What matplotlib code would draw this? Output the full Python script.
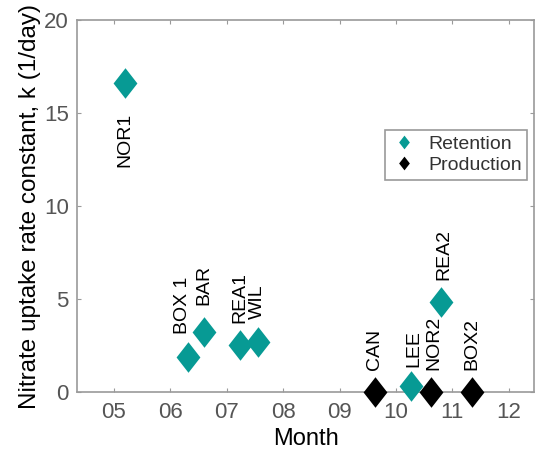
import numpy as np
from matplotlib import pyplot as plt
from matplotlib.path import Path

# sites, month of sampling (decimal month) and uptake rate constant k (1/day)
sites = ['NOR1', 'BOX 1', 'BAR', 'REA1', 'WIL', 'CAN', 'LEE', 'NOR2', 'REA2', 'BOX2']
month = [5.19, 6.32, 6.60, 7.23, 7.55, 9.62, 10.27, 10.62, 10.80, 11.35]
k_val = [16.6, 1.9, 3.2, 2.5, 2.7, 0.0, 0.3, 0.0, 4.84, 0.0]
group = ['Retention', 'Retention', 'Retention', 'Retention', 'Retention',
         'Production', 'Retention', 'Production', 'Retention', 'Production']
month_ticks = [5, 6, 7, 8, 9, 10, 11, 12]
month_labels = ['05', '06', '07', '08', '09', '10', '11', '12']

# label offsets in points (dx, dy) relative to the marker
label_off = [(0, -21), (-4, 16), (0, 19.5), (0, 16), (0, 16.5),
             (0, 16), (2, 14), (2, 16), (2, 16), (0, 16)]

colors = {'Retention': '#079a94', 'Production': 'black'}

plt.rcParams['font.family'] = ['Liberation Sans', 'DejaVu Sans']

diamond = Path([(0, 1), (0.78, 0), (0, -1), (-0.78, 0), (0, 1)],
               [Path.MOVETO, Path.LINETO, Path.LINETO, Path.LINETO, Path.CLOSEPOLY])

fig = plt.figure(figsize=(5.36, 4.55), dpi=100)
ax = fig.add_axes([0.1437, 0.1385, 0.853, 0.8175])

m = np.array(month)
kk = np.array(k_val)
g = np.array(group)
for name in ['Retention', 'Production']:
    sel = g == name
    ax.plot(m[sel], kk[sel], linestyle='none', marker=diamond, markersize=22,
            markeredgewidth=0, color=colors[name], label=name, zorder=3,
            clip_on=False)

for i, s in enumerate(sites):
    dx, dy = label_off[i]
    ax.annotate(s, (month[i], k_val[i]), xytext=(dx, dy), textcoords='offset points',
                rotation=90, ha='center', va='top' if dy < 0 else 'bottom',
                fontsize=14, color='black')

ax.set_xlim(4.346, 12.45)
ax.set_ylim(0, 20)
ax.set_xticks(month_ticks)
ax.set_xticklabels(month_labels)
ax.set_yticks([0, 5, 10, 15, 20])

for sp in ax.spines.values():
    sp.set_color('#9a9a9a')
    sp.set_linewidth(1.2)
ax.tick_params(direction='in', length=3, width=0.8, color='#9a9a9a',
               top=True, right=True, labelcolor='#555555', labelsize=16)
ax.tick_params(axis='x', pad=7)
ax.tick_params(axis='y', pad=6)

ax.set_xlabel('Month', fontsize=17, labelpad=4)
ax.set_ylabel('Nitrate uptake rate constant, k (1/day)', fontsize=17.5, labelpad=2)

leg = ax.legend(loc='upper right', bbox_to_anchor=(0.985, 0.705), borderaxespad=0,
                fontsize=14, markerscale=0.45, handlelength=1.3, handletextpad=0.6,
                borderpad=0.3, labelspacing=0.15, fancybox=False, framealpha=1)
leg.get_frame().set_edgecolor('#9a9a9a')
leg.get_frame().set_linewidth(1.2)
for t in leg.get_texts():
    t.set_color('#333333')

plt.savefig('out.png', dpi=100)
